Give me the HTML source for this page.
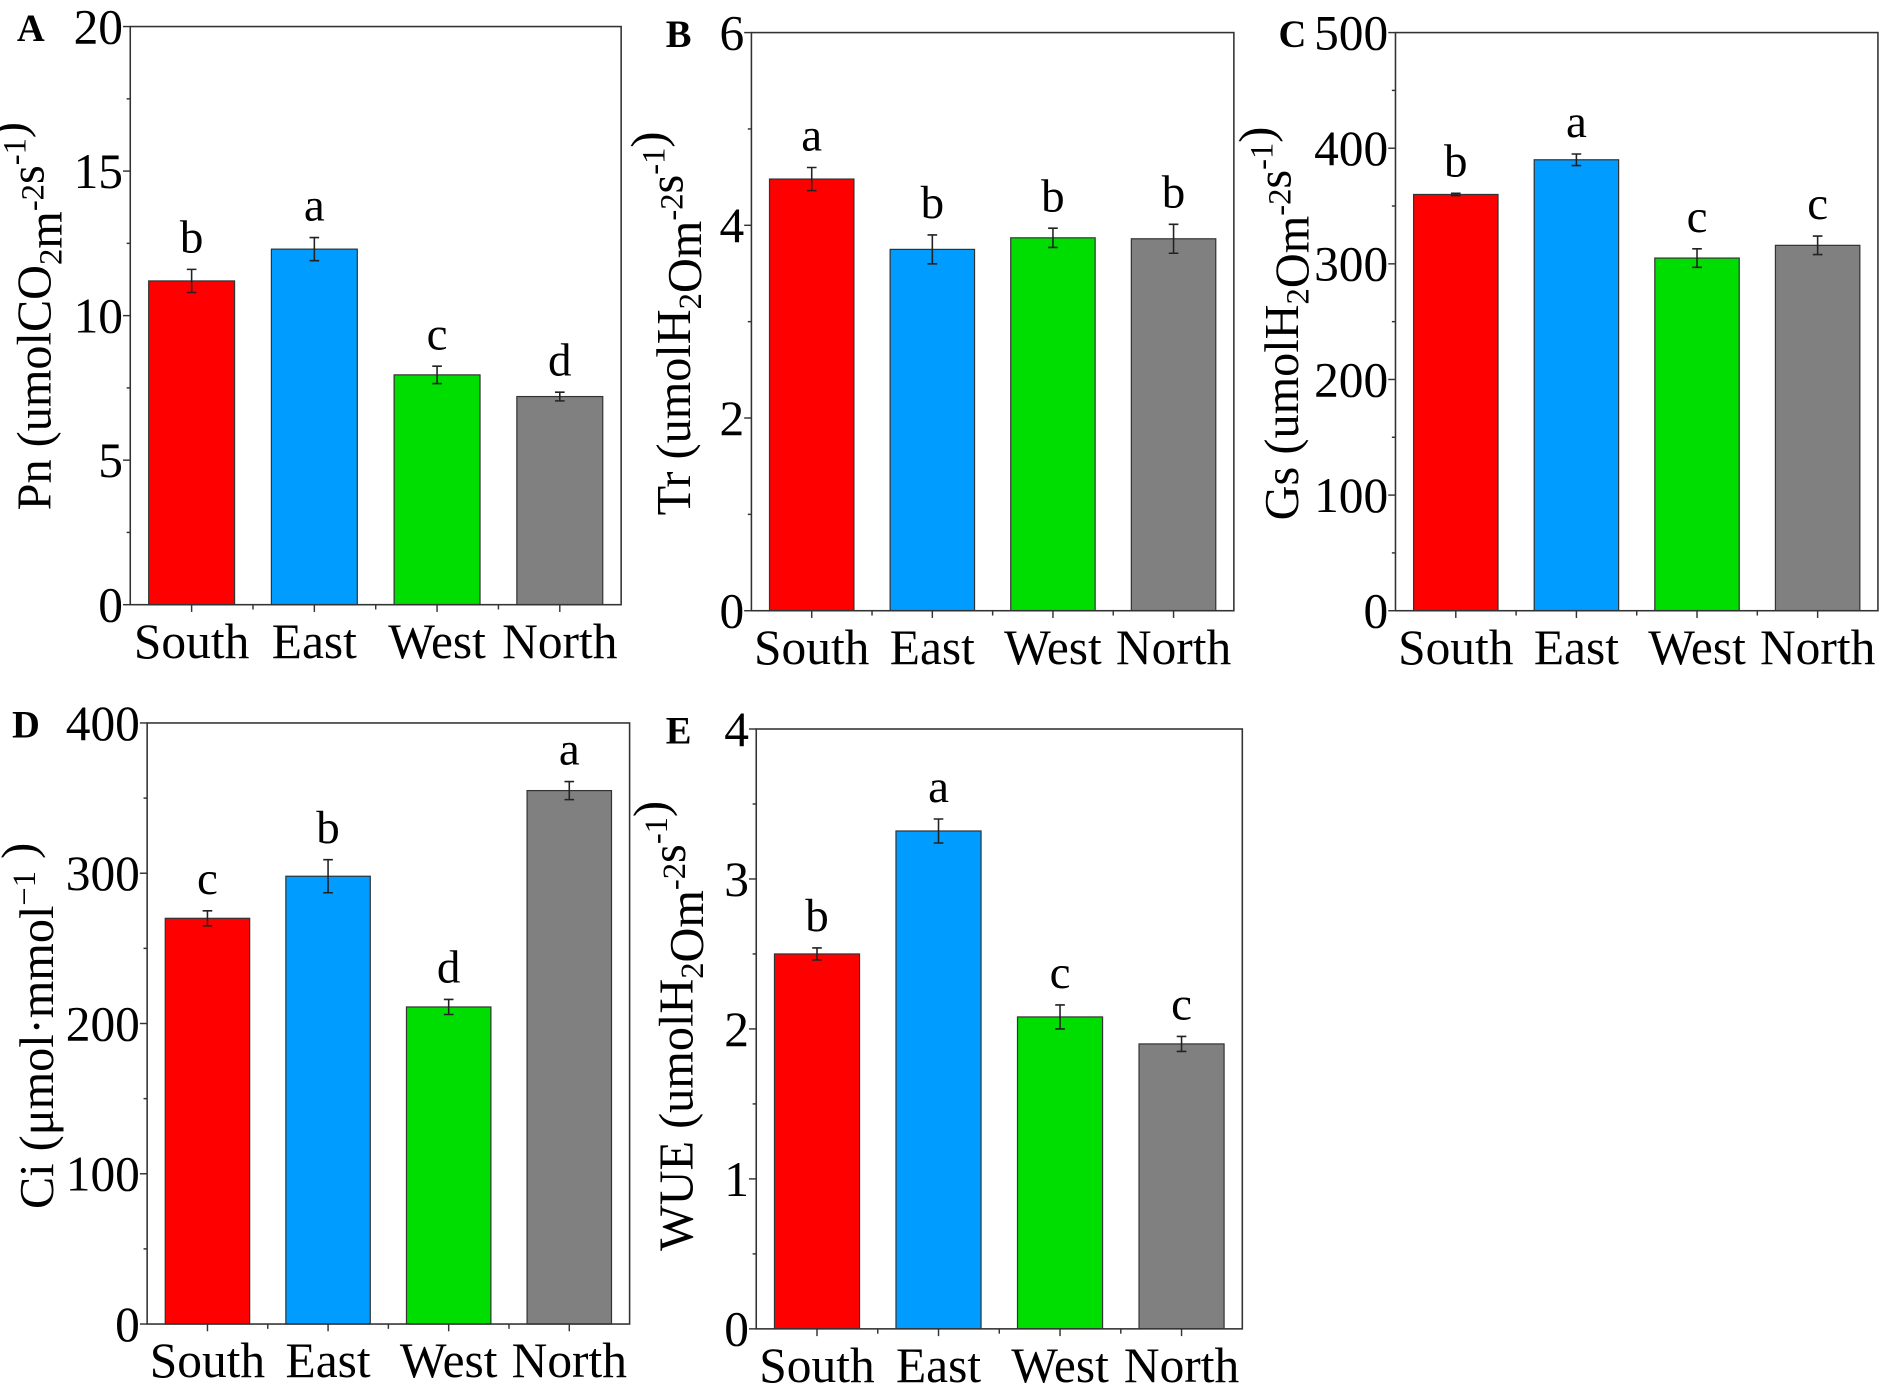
<!DOCTYPE html>
<html><head><meta charset="utf-8"><style>
html,body{margin:0;padding:0;background:#fff;}
svg{display:block;}
text{font-family:"Liberation Serif","Times New Roman",serif;fill:#000;}
</style></head>
<body>
<svg id="fig" width="1890" height="1388" viewBox="0 0 1567 1150" preserveAspectRatio="none" xmlns="http://www.w3.org/2000/svg"></svg>
<script>
const categories = ["South","East","West","North"];
const colors = ["#ff0000","#009cff","#00dd00","#808080"];
const pnValues = [11.2, 12.3, 7.95, 7.2];
const pnErrors = [0.4, 0.4, 0.3, 0.15];
const pnLetters = ["b","a","c","d"];
const pnTicks = [0,5,10,15,20];
const trValues = [4.48, 3.75, 3.87, 3.86];
const trErrors = [0.12, 0.15, 0.1, 0.15];
const trLetters = ["a","b","b","b"];
const trTicks = [0,2,4,6];
const gsValues = [360, 390, 305, 316];
const gsErrors = [1, 5, 8, 8];
const gsLetters = ["b","a","c","c"];
const gsTicks = [0,100,200,300,400,500];
const ciValues = [270, 298, 211, 355];
const ciErrors = [5, 11, 5, 6];
const ciLetters = ["c","b","d","a"];
const ciTicks = [0,100,200,300,400];
const wueValues = [2.5, 3.32, 2.08, 1.9];
const wueErrors = [0.04, 0.08, 0.08, 0.05];
const wueLetters = ["b","a","c","c"];
const wueTicks = [0,1,2,3,4];

const NS = "http://www.w3.org/2000/svg";
const svg = document.getElementById("fig");
function mk(tag, attrs, parent){
  const e = document.createElementNS(NS, tag);
  for (const k in attrs) e.setAttribute(k, attrs[k]);
  (parent||svg).appendChild(e);
  return e;
}

function panel(cfg){
  const g = mk("g", {});
  
  
  const {L,R,T,B} = cfg;
  const maxV = cfg.ticks[cfg.ticks.length-1];
  const y = v => B - (v/maxV)*(B-T);
  const bw = (R-L)/4;
  const xc = i => L + bw*(i+0.5);
  const barW = bw*0.7;
  cfg.values.forEach((v,i)=>{
    const r = mk("rect",{x:xc(i)-barW/2, y:y(v), width:barW, height:B-y(v), fill:colors[i], stroke:"#333", "stroke-width":1}, g);
    
    
    const e = cfg.errors[i];
    const eb = mk("path",{d:`M${xc(i)},${y(v+e)}V${y(v-e)}M${xc(i)-4},${y(v+e)}H${xc(i)+4}M${xc(i)-4},${y(v-e)}H${xc(i)+4}`, stroke:"#222", "stroke-width":1.3, fill:"none"}, g);
    
    
    const t = mk("text",{x:xc(i), y:y(v+e)-14, "text-anchor":"middle", "font-size":39}, g);
    t.textContent = cfg.letters[i];
    
    
    const xl = mk("text",{x:xc(i), y:B+44, "text-anchor":"middle", "font-size":41}, g);
    xl.textContent = categories[i];
    
    
    mk("line",{x1:xc(i),x2:xc(i),y1:B,y2:B+6,stroke:"#333","stroke-width":1.2},g);
    if(i<3) mk("line",{x1:L+bw*(i+1),x2:L+bw*(i+1),y1:B,y2:B+4,stroke:"#333","stroke-width":1.2},g);
  });
  const fr = mk("rect",{x:L,y:T,width:R-L,height:B-T,fill:"none",stroke:"#333","stroke-width":1.3},g);
  
  
  cfg.ticks.forEach((tv,k)=>{
    mk("line",{x1:L-6,x2:L,y1:y(tv),y2:y(tv),stroke:"#333","stroke-width":1.2},g);
    if(k<cfg.ticks.length-1){
      const m=(tv+cfg.ticks[k+1])/2;
      mk("line",{x1:L-3,x2:L,y1:y(m),y2:y(m),stroke:"#333","stroke-width":1.2},g);
    }
    const t = mk("text",{x:L-6, y:y(tv)+14, "text-anchor":"end", "font-size":41}, g);
    t.textContent = tv;
    
    
  });
  const pl = mk("text",{x:cfg.lx, y:T+12, "font-size":32, "font-weight":"bold"}, g);
  pl.textContent = cfg.label;
  
  
  const ty = mk("text",{x:0,y:0,"font-size":40,"text-anchor":"middle",transform:`translate(${cfg.tx},${cfg.ty}) rotate(-90)`}, g);
  ty.innerHTML = cfg.title;
  
  
}

const sup = s => `<tspan dy="-15" font-size="27">${s}</tspan><tspan dy="15"></tspan>`;
const sub = s => `<tspan dy="9" font-size="27">${s}</tspan><tspan dy="-9"></tspan>`;

panel({id:"pn",label:"A",lx:14,L:108,R:515,T:22,B:501,values:pnValues,errors:pnErrors,letters:pnLetters,ticks:pnTicks,tx:42,ty:262,
  title:`Pn (umolCO${sub("2")}m${sup("-2")}s${sup("-1")})`});
panel({id:"tr",label:"B",lx:552,L:623,R:1023,T:27,B:506,values:trValues,errors:trErrors,letters:trLetters,ticks:trTicks,tx:572,ty:268,
  title:`Tr (umolH${sub("2")}Om${sup("-2")}s${sup("-1")})`});
panel({id:"gs",label:"C",lx:1060,L:1157,R:1557,T:27,B:506,values:gsValues,errors:gsErrors,letters:gsLetters,ticks:gsTicks,tx:1076,ty:268,
  title:`Gs (umolH${sub("2")}Om${sup("-2")}s${sup("-1")})`});
panel({id:"ci",label:"D",lx:10,L:122,R:522,T:599,B:1097,values:ciValues,errors:ciErrors,letters:ciLetters,ticks:ciTicks,tx:44,ty:850,
  title:`Ci (μmol·mmol${sup("−1")} )`});
panel({id:"wue",label:"E",lx:552,L:627,R:1030,T:604,B:1101,values:wueValues,errors:wueErrors,letters:wueLetters,ticks:wueTicks,tx:574,ty:850,
  title:`WUE (umolH${sub("2")}Om${sup("-2")}s${sup("-1")})`});
</script>
</body></html>
